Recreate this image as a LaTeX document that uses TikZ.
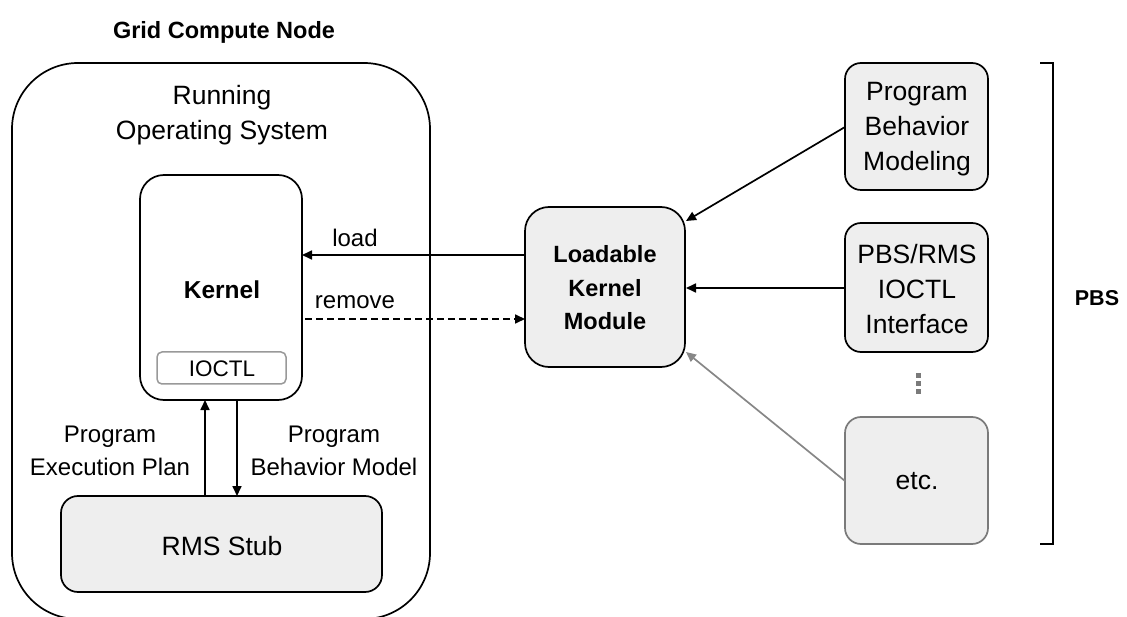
\documentclass[tikz,border=0pt]{standalone}
\usepackage{fontspec}
\setmainfont{Liberation Sans}
\usetikzlibrary{arrows.meta}
\definecolor{boxfill}{HTML}{EEEEEE}
\definecolor{dimgray}{HTML}{7A7A7A}
\begin{document}
\begin{tikzpicture}[x=1pt,y=-1pt,
  txt/.style={font=\fontsize{26.5}{35}\selectfont, align=center, inner sep=0pt},
  lbl/.style={font=\fontsize{24}{33}\selectfont, align=center, inner sep=0pt},
  bold/.style={font=\fontsize{21.5}{26}\selectfont\bfseries, inner sep=0pt},
  gbox/.style={draw=black, line width=1.7pt, fill=boxfill, rounded corners=16pt},
  arr/.style={-{Triangle[length=10pt,width=9pt]}, line width=1.7pt},
]
\useasboundingbox (0,0) rectangle (1127,617);
% title
\node[font=\fontsize{23.5}{28}\selectfont\bfseries, inner sep=0pt] (title) at (224,32) {Grid Compute Node};
% outer OS box
\draw[line width=1.7pt, rounded corners=66pt] (12,63) rectangle (430,619);
\node[txt] (os) at (222,115) {Running\\Operating System};
% kernel
\draw[line width=1.7pt, fill=white, rounded corners=24pt] (140,175) rectangle (302,400);
\node[font=\fontsize{24.5}{28}\selectfont\bfseries, inner sep=0pt] (kt) at (222,290) {Kernel};
\draw[line width=1.5pt, draw=gray!80, rounded corners=5pt] (157,352) rectangle (286,384);
\node[font=\fontsize{22.5}{26}\selectfont, inner sep=0pt] (ioctl) at (222,369) {IOCTL};
% RMS stub
\draw[gbox, rounded corners=17pt] (61,496) rectangle (382,592);
\node[txt] (rms) at (222,546) {RMS Stub};
\coordinate (kb1) at (205,400); \coordinate (rt1) at (205,496);
\coordinate (kb2) at (237,400); \coordinate (rt2) at (237,496);
\draw[arr] (rt1) -- (kb1);
\draw[arr] (kb2) -- (rt2);
\node[lbl] (pep) at (110,451) {Program\\Execution Plan};
\node[lbl] (pbm) at (334,451) {Program\\Behavior Model};
% LKM
\draw[gbox, rounded corners=24pt] (525,207) rectangle (685,367);
\node[font=\fontsize{23.5}{33.5}\selectfont\bfseries, align=center, inner sep=0pt] (lkm) at (605,288) {Loadable\\Kernel\\Module};
\coordinate (lkmL1) at (525,255); \coordinate (kR1) at (302,255);
\coordinate (kR2) at (305,319); \coordinate (lkmL2) at (525,319);
\draw[arr] (lkmL1) -- (kR1);
\draw[arr, dashed, dash pattern=on 7pt off 4pt] (kR2) -- (lkmL2);
\node[lbl] (load) at (355,238) {load};
\node[lbl] (remove) at (355,302) {remove};
% right boxes
\draw[gbox] (845,63) rectangle (988,190);
\node[txt] (m1) at (917,129) {Program\\Behavior\\Modeling};
\draw[gbox] (845,223) rectangle (988,352);
\node[txt] (m2) at (917,289) {PBS/RMS\\IOCTL\\Interface};
\draw[gbox, draw=dimgray] (845,417) rectangle (988,544);
\node[txt] (m3) at (917,481) {etc.};
% dots
\foreach \yy in {376,384,392} \fill[dimgray] (915.5,\yy-2.5) rectangle (920.5,\yy+2.5);
% arrows into LKM
\coordinate (m1L) at (845,127); \coordinate (lkmTR) at (686,221);
\coordinate (m2L) at (845,288); \coordinate (lkmR) at (686,288);
\coordinate (m3L) at (845,481); \coordinate (lkmBR) at (686,352);
\draw[arr] (m1L) -- (lkmTR);
\draw[arr] (m2L) -- (lkmR);
\draw[arr, draw=dimgray!90, fill=dimgray!90] (m3L) -- (lkmBR);
% bracket
\draw[line width=1.5pt] (1040,63) -- (1053,63) -- (1053,544) -- (1040,544);
\node[bold] (pbs) at (1097,298) {PBS};
\end{tikzpicture}
\end{document}
